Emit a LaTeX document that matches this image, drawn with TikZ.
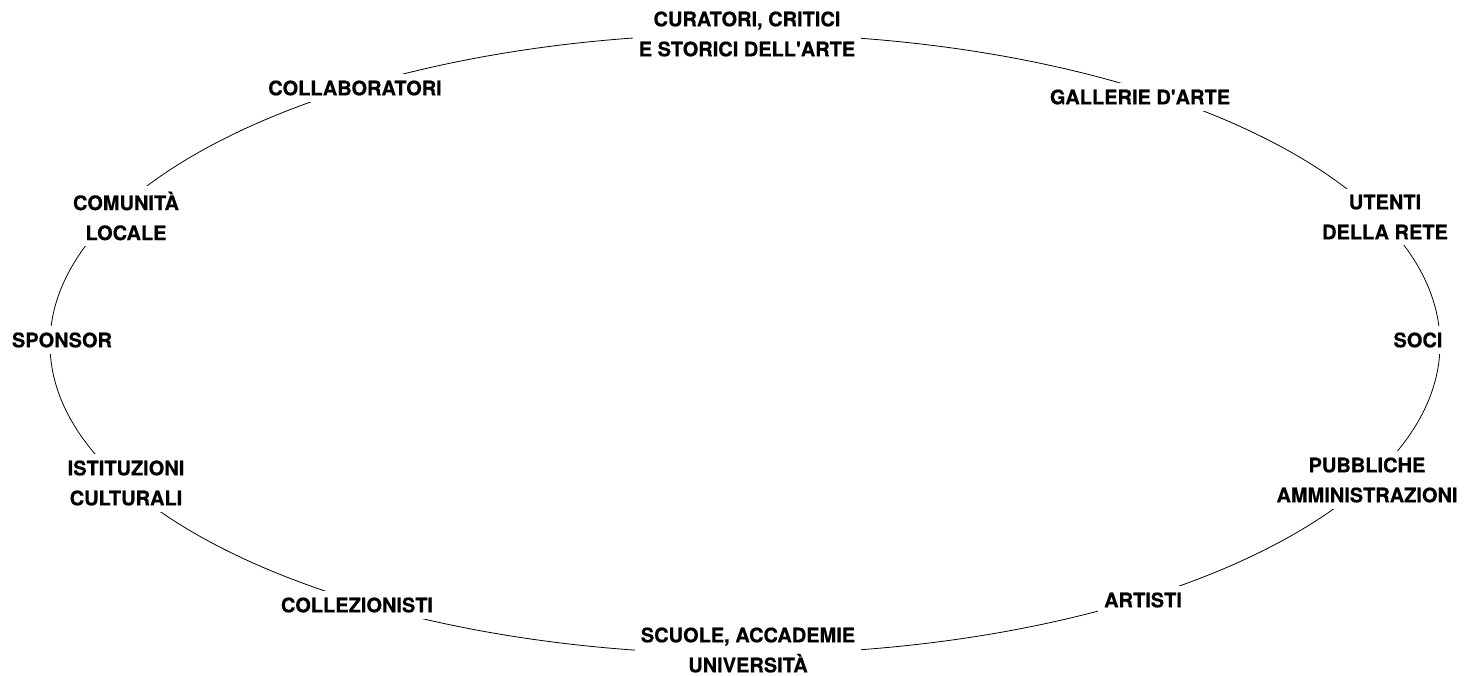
\documentclass[tikz,border=0pt]{standalone}
\usepackage{fontspec}
\setmainfont{TeX Gyre Heros}[Ligatures=TeXOff, BoldFeatures={FakeBold=0.4}]

\tikzset{
  tag/.style={fill=white, inner sep=6pt, align=center,
    font=\fontsize{20}{30}\selectfont\bfseries}
}

\begin{document}
\begin{tikzpicture}[x=1pt, y=-1pt]
\useasboundingbox (0,0) rectangle (1467,675);

% Ellisse
	\draw[line width=0.8pt] (745,344) ellipse [x radius=695pt, y radius=310pt];

% Etichette
\node[tag] (cur) at (747,34) {CURATORI, CRITICI\\E STORICI DELL'ARTE};
\node[tag] (col) at (355,88) {COLLABORATORI};
\node[tag] (gal) at (1140,97) {GALLERIE D'ARTE};
\node[tag] (com) at (126,216) {COMUNITÀ\\LOCALE};
\node[tag] (ute) at (1385,217) {UTENTI\\DELLA RETE};
\node[tag] (spo) at (62,340) {SPONSOR};
\node[tag] (soc) at (1418,340) {SOCI};
\node[tag] (ist) at (126,483) {ISTITUZIONI\\CULTURALI};
\node[tag] (pub) at (1367,480) {PUBBLICHE\\AMMINISTRAZIONI};
\node[tag] (clz) at (357,605) {COLLEZIONISTI};
\node[tag] (art) at (1143,600) {ARTISTI};
\node[tag] (scu) at (748,650) {SCUOLE, ACCADEMIE\\UNIVERSITÀ};
\end{tikzpicture}
\end{document}
